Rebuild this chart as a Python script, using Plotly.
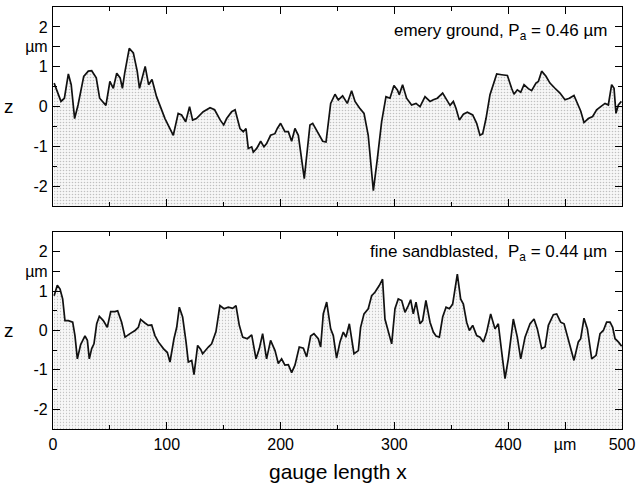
import plotly.graph_objects as go

# emery ground profile (x in µm, z in µm)
x_emery = [1, 3, 7, 10, 13.5, 16, 19, 22, 27, 31, 34, 38, 41, 46.5, 50, 53, 56, 59, 61, 63,
           67, 70.6, 74, 76, 81, 84, 87, 91, 98.4, 105.7, 110, 113, 116.6, 120, 122.7, 126,
           132, 138, 142, 147, 150, 152.6, 157, 160, 164.3, 167.2, 169.6, 171.6, 174.6, 176,
           179, 182.5, 185.4, 187.7, 191.2, 195, 197.1, 200, 203.8, 206.8, 209.7, 212.6,
           215.6, 220.8, 225.8, 228.2, 232.3, 237, 239.9, 242, 244, 247.8, 250.7, 254.5,
           258.6, 262.4, 265.4, 269.2, 273.3, 277, 281.5, 285, 288.8, 292.6, 296.1, 299.6,
           302.6, 304.3, 307.2, 310.7, 315.1, 319, 322.5, 326.9, 331.3, 334.2, 337.7, 342.4,
           346, 348.9, 351.8, 354.1, 357.1, 360.6, 364.1, 368.8, 372.3, 375.2, 377.6, 380.5,
           384, 387, 389.9, 394.3, 399.3, 403, 405.1, 408, 411, 413.9, 417.7, 420.6, 424.4,
           426.5, 429.4, 433.2, 436.7, 441.1, 445.5, 449.9, 453.7, 457.8, 461.6, 463.7, 466.6,
           470.4, 474.2, 477.7, 481.3, 485.1, 488, 490.9, 493, 494.7, 496.8, 499.5]
z_emery = [0.59, 0.42, 0.13, 0.21, 0.82, 0.55, -0.3, 0.04, 0.76, 0.89, 0.9, 0.72, 0.21, 0.03,
           0.63, 0.46, 0.84, 0.72, 0.46, 0.84, 1.46, 1.35, 0.89, 0.46, 1.01, 0.55, 0.68, 0.25,
           -0.3, -0.72, -0.17, -0.21, -0.38, 0.0, -0.34, -0.3, -0.13, -0.03, -0.08, -0.34,
           -0.46, -0.3, -0.13, -0.08, -0.55, -0.63, -0.55, -1.05, -1.01, -1.14, -1.05, -0.87,
           -1.01, -0.93, -0.72, -0.68, -0.55, -0.42, -0.63, -0.63, -0.87, -0.55, -0.72, -1.81,
           -0.46, -0.42, -0.63, -0.87, -0.89, -0.38, 0.08, 0.31, 0.17, 0.27, 0.08, 0.4, 0.13,
           -0.03, -0.17, -0.72, -2.11, -1.31, -0.38, 0.25, 0.21, 0.53, 0.42, 0.3, 0.55, 0.21,
           0.04, 0.08, 0.0, 0.25, 0.13, 0.17, 0.21, 0.34, 0.17, 0.03, 0.13, -0.04, -0.34,
           -0.19, -0.14, -0.21, -0.42, -0.72, -0.68, -0.3, 0.3, 0.55, 0.82, 0.8, 0.78, 0.46,
           0.31, 0.42, 0.36, 0.55, 0.45, 0.4, 0.59, 0.63, 0.89, 0.76, 0.59, 0.46, 0.34, 0.17,
           0.21, 0.28, 0.04, -0.11, -0.4, -0.3, -0.25, -0.08, 0.0, 0.08, 0.04, 0.55, 0.46,
           -0.17, 0.04, 0.13]

# fine sandblasted profile
x_sand = [1, 3.8, 6.2, 8.5, 10.5, 13.5, 17.3, 19.3, 21.4, 24.3, 28.1, 30.2, 31.9, 34, 36,
          38.4, 40.7, 44.2, 47.7, 50.7, 54.5, 56.8, 60.3, 63.3, 67.7, 72.1, 75, 77, 80.8,
          83.8, 86.7, 89.6, 92.6, 97, 100.5, 102.8, 106.3, 108.7, 111, 113.9, 116.9, 118.9,
          121.9, 123.9, 127.1, 129.8, 131.5, 133.6, 136.5, 139.4, 143.2, 146.7, 150.3, 154,
          157.9, 160.8, 163.7, 166.7, 170.7, 174.6, 178.4, 181.3, 184.2, 187.7, 191.2, 195.1,
          198, 200.9, 203.8, 206.8, 209.7, 212.6, 216.4, 220, 222.9, 226.4, 229.3, 233.1,
          235.2, 237.5, 240.5, 244, 246.3, 249.2, 252.2, 255.1, 257.4, 260.4, 262.4, 264.5,
          268.3, 270.3, 273.3, 277, 280, 282.9, 286.7, 289.6, 291.7, 294.6, 297.6, 300.5,
          303.4, 306.4, 309.3, 312.2, 314.3, 316.6, 319, 322.5, 324.8, 327.7, 331.3, 334.2,
          336.6, 339.5, 342.4, 345.4, 348.3, 351.2, 355.3, 358.2, 360.6, 363.5, 365.9, 368.8,
          372.3, 375.2, 378.2, 381.1, 384.6, 388.4, 391.3, 394.3, 397.2, 400.1, 404.5, 408,
          411, 414.8, 419.2, 422.7, 425.6, 429.4, 432.4, 435.3, 439.7, 442.6, 446.1, 449.1,
          452, 454.3, 457.8, 461.6, 463.7, 466.6, 469.6, 473.4, 477.2, 480.7, 483.6, 486.5,
          489.5, 491.8, 493.9, 496.8, 499.7]
z_sand = [0.88, 1.15, 1.05, 0.8, 0.25, 0.25, 0.21, -0.13, -0.72, -0.36, -0.14, -0.25, -0.72,
          -0.46, -0.34, 0.17, 0.36, 0.25, 0.08, 0.48, 0.48, 0.5, 0.21, -0.17, -0.08, 0.0, 0.08,
          0.28, 0.19, 0.13, 0.14, -0.13, -0.29, -0.46, -0.56, -0.8, -0.21, 0.08, 0.59, 0.34,
          -0.29, -0.8, -0.76, -1.12, -0.38, -0.48, -0.59, -0.51, -0.42, -0.34, -0.03, 0.63,
          0.55, 0.59, 0.56, 0.63, 0.13, -0.17, -0.21, -0.11, -0.72, -0.46, -0.08, -0.72, -0.25,
          -0.51, -0.84, -0.72, -0.88, -0.87, -1.07, -0.88, -0.42, -0.45, -0.67, -0.14, -0.08,
          -0.21, -0.42, 0.42, 0.72, 0.04, -0.13, -0.7, -0.29, -0.04, -0.17, 0.17, -0.21, -0.59,
          -0.51, 0.08, 0.42, 0.55, 0.88, 0.97, 1.14, 1.3, 0.29, -0.04, -0.34, 0.55, 0.8, 0.76,
          0.46, 0.63, 0.78, 0.42, 0.72, 0.17, 0.25, 0.76, 0.21, -0.04, -0.14, -0.17, 0.34,
          0.59, 0.55, 0.67, 1.43, 0.8, 0.67, 0.21, 0.0, 0.13, -0.13, -0.17, -0.29, -0.04,
          0.42, 0.04, 0.17, -0.55, -1.22, -0.72, 0.29, -0.17, -0.72, -0.17, 0.17, 0.29, 0.04,
          -0.46, -0.42, 0.13, 0.4, 0.42, 0.21, 0.17, -0.13, -0.34, -0.76, -0.29, -0.21, 0.31,
          0.04, -0.72, -0.63, -0.08, 0.0, 0.21, 0.21, 0.08, -0.21, -0.29, -0.4]

z_min, z_max = -2.5, 2.5
y_ticks = [-2, -1, 0, 1, 1.5, 2]
y_text = ["-2", "-1", "0", "1", "µm", "2"]
x_ticks = [0, 100, 200, 300, 400, 450, 500]
x_text = ["0", "100", "200", "300", "400", "µm", "500"]

FONT = "Liberation Sans, Arial, sans-serif"

fig = go.Figure()

# (x, z, xaxis, yaxis, label, label y, pattern solidity)
panels = [
    (x_emery, z_emery, "x", "y", "emery ground, P<sub>a</sub> = 0.46 µm", 1.87, 0.22),
    (x_sand, z_sand, "x2", "y2", "fine sandblasted,  P<sub>a</sub> = 0.44 µm", 1.97, 0.14),
]

for xs, zs, xa, ya, label, ly, solid in panels:
    # base line at the bottom of the axis so the profile fills downwards
    fig.add_trace(go.Scatter(x=xs, y=[z_min] * len(xs), mode="lines",
                             line=dict(width=0), xaxis=xa, yaxis=ya,
                             showlegend=False, hoverinfo="skip"))
    fig.add_trace(go.Scatter(
        x=xs, y=zs, mode="lines", xaxis=xa, yaxis=ya, showlegend=False,
        line=dict(color="#111111", width=1.7),
        fill="tonexty", fillcolor="rgba(0,0,0,0)",
        fillpattern=dict(shape=".", fgcolor="#8a8a8a", bgcolor="#f7f7f7",
                         size=3, solidity=solid),
    ))

axis_common = dict(
    showline=True, linecolor="black", linewidth=1.2, mirror="ticks",
    ticks="inside", ticklen=7, tickcolor="black", showgrid=False, zeroline=False,
    automargin=False,
    tickfont=dict(family=FONT, size=16, color="black"),
)
minor_x = dict(ticks="inside", ticklen=4, dtick=50, tickcolor="black")
minor_y = dict(ticks="inside", ticklen=4, dtick=0.5, tickcolor="black")

fig.update_layout(
    width=638, height=495,
    margin=dict(l=53, r=16, t=7, b=66),
    paper_bgcolor="white", plot_bgcolor="white",
    font=dict(family=FONT, color="black"),
    xaxis=dict(domain=[0, 1], anchor="y", range=[0, 500], tickvals=x_ticks,
               showticklabels=False, minor=minor_x, **axis_common),
    yaxis=dict(domain=[0.528, 1], anchor="x", range=[z_min, z_max],
               tickvals=y_ticks, ticktext=y_text, ticklabelstandoff=1,
               minor=minor_y, **axis_common),
    xaxis2=dict(domain=[0, 1], anchor="y2", range=[0, 500], tickvals=x_ticks,
                ticktext=x_text, ticklabelstandoff=1, minor=minor_x, **axis_common),
    yaxis2=dict(domain=[0, 0.467], anchor="x2", range=[z_min, z_max],
                tickvals=y_ticks, ticktext=y_text, ticklabelstandoff=1,
                minor=minor_y, **axis_common),
)

annotations = []
for xs, zs, xa, ya, label, ly, solid in panels:
    annotations.append(dict(
        text=label, xref=xa, yref=ya, x=489, y=ly, xanchor="right",
        yanchor="middle", showarrow=False,
        font=dict(family=FONT, size=17, color="black"),
    ))
    annotations.append(dict(
        text="z", xref="paper", yref=ya, x=0, y=0, xanchor="center",
        yanchor="middle", xshift=-44, showarrow=False,
        font=dict(family=FONT, size=19, color="black"),
    ))
annotations.append(dict(
    text="gauge length x", xref="paper", yref="paper", x=0.5, y=0,
    xanchor="center", yanchor="middle", yshift=-42, showarrow=False,
    font=dict(family=FONT, size=21, color="black"),
))
fig.update_layout(annotations=annotations)

# drop the browser's default 8px body margin so the figure fills the window
fig.write_html("out.html", config={"displayModeBar": False},
               post_script="document.body.style.margin = '0';")
